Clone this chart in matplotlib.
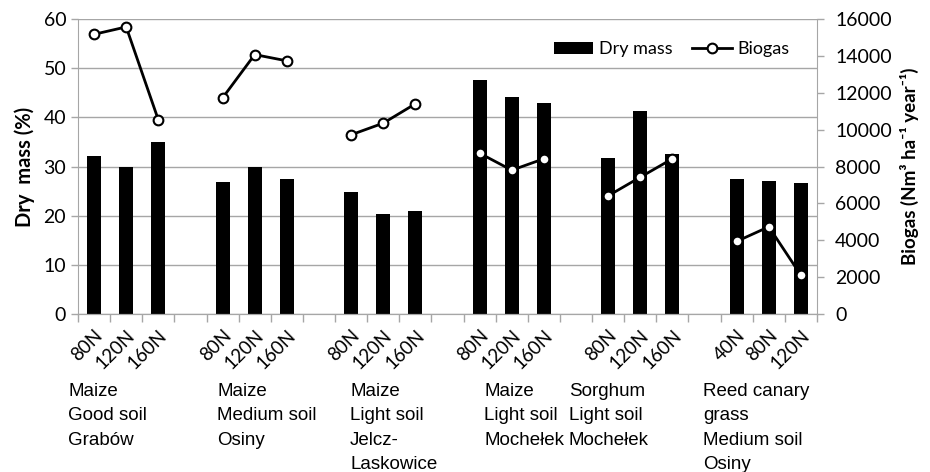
import matplotlib

matplotlib.use("Agg")

import matplotlib.pyplot as plt
import numpy as np
from matplotlib.patches import Patch

# dry mass (%) per treatment, 6 crop/site groups x 3 N levels
dry_mass = [
    [32.1, 30.0, 35.0],
    [26.8, 29.8, 27.4],
    [24.9, 20.3, 20.9],
    [47.6, 44.1, 43.0],
    [31.7, 41.2, 32.6],
    [27.4, 27.1, 26.6],
]
# biogas yield (Nm3 ha-1 year-1)
biogas = [
    [15170, 15570, 10530],
    [11720, 14070, 13730],
    [9720, 10350, 11400],
    [8720, 7800, 8420],
    [6410, 7420, 8420],
    [3940, 4730, 2100],
]
n_labels = [
    ["80N", "120N", "160N"],
    ["80N", "120N", "160N"],
    ["80N", "120N", "160N"],
    ["80N", "120N", "160N"],
    ["80N", "120N", "160N"],
    ["40N", "80N", "120N"],
]
group_labels = [
    "Maize\nGood soil\nGrabów",
    "Maize\nMedium soil\nOsiny",
    "Maize\nLight soil\nJelcz-\nLaskowice",
    "Maize\nLight soil\nMochełek",
    "Sorghum\nLight soil\nMochełek",
    "Reed canary\ngrass\nMedium soil\nOsiny",
]

# layout: x of each group caption (data units, slot centres at integers)
label_x = [-0.81, 3.83, 7.97, 12.14, 14.78, 18.95]

GRID = "#a6a6a6"
NUM_FONT = ["Lato", "DejaVu Sans"]
NARROW = ["Liberation Sans Narrow", "Liberation Sans", "DejaVu Sans"]

fig = plt.figure(figsize=(9.3, 4.72), dpi=100)
ax = fig.add_axes([78 / 930, 1 - 314 / 472, (817 - 78) / 930, (314 - 19) / 472])
ax2 = ax.twinx()

slots = []
for g in range(len(dry_mass)):
    slots.append(np.arange(3) + 4 * g)

for g, xs in enumerate(slots):
    ax.bar(xs, dry_mass[g], width=0.44, color="black", zorder=2)
    line, = ax2.plot(xs, biogas[g], color="black", lw=2, marker="o", ms=7,
                     mfc="white", mec="black", mew=1.5, zorder=3)

ax.set_xlim(-0.5, 22.5)
ax.set_ylim(0, 60)
ax2.set_ylim(0, 16000)
ax.set_yticks(np.arange(0, 61, 10))
ax2.set_yticks(np.arange(0, 16001, 2000))

ax.yaxis.grid(True, color=GRID, lw=1)
ax.set_axisbelow(True)

for a in (ax, ax2):
    a.spines["top"].set_visible(False)
    for s in ("left", "right", "bottom"):
        a.spines[s].set_color(GRID)
    a.tick_params(axis="y", colors="black", length=5, color=GRID, width=1)

ax.spines["right"].set_visible(False)
ax2.spines["left"].set_visible(False)
ax2.tick_params(axis="y", pad=8)

ax.set_yticklabels([str(v) for v in range(0, 61, 10)], family=NUM_FONT, fontsize=14)
ax2.set_yticklabels([str(v) for v in range(0, 16001, 2000)], family=NUM_FONT, fontsize=14)

# x ticks: labels at bar centres, tick marks at slot boundaries
all_x = np.concatenate(slots)
all_lbl = [lbl for grp in n_labels for lbl in grp]
ax.set_xticks(all_x)
ax.set_xticklabels(all_lbl, rotation=45, ha="right", rotation_mode="anchor",
                   family=NUM_FONT, fontsize=13.5)
ax.tick_params(axis="x", which="major", length=0, pad=9)
ax.set_xticks(np.arange(-0.5, 23, 1), minor=True)
ax.tick_params(axis="x", which="minor", length=6, color=GRID, width=1)

for x, txt in zip(label_x, group_labels):
    ax.text(x, -0.235, txt, transform=ax.get_xaxis_transform(), ha="left", va="top",
            family=NARROW, fontsize=13.5, linespacing=1.55)

ax.set_ylabel("Dry  mass (%)", family=NUM_FONT, fontsize=14.5, fontweight="bold", labelpad=6)
ax2.set_ylabel("Biogas (Nm³ ha⁻¹ year⁻¹)", family=NUM_FONT, fontsize=13.5,
               fontweight="bold", rotation=90, labelpad=6)

handles = [Patch(facecolor="black"), line]
ax2.legend(handles, ["Dry mass", "Biogas"], loc="upper right", bbox_to_anchor=(0.985, 0.98),
           frameon=False, ncol=2, prop={"family": NUM_FONT, "size": 13},
           handlelength=2.2, handleheight=0.7, columnspacing=1.1, handletextpad=0.3)

fig.savefig("out.png", dpi=100)
